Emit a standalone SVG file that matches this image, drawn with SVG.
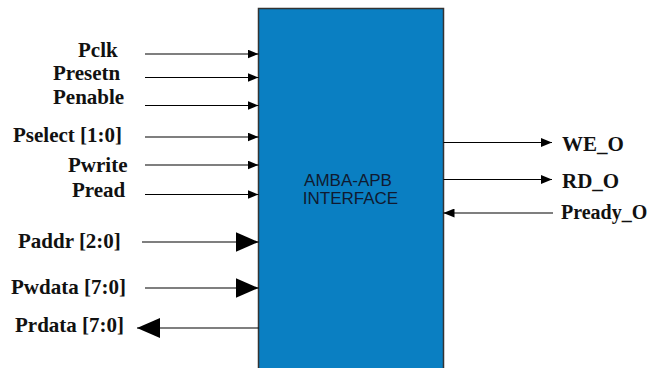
<svg xmlns="http://www.w3.org/2000/svg" width="651" height="368" viewBox="0 0 651 368">
<style>
.lbl{font-family:"Liberation Serif","Times New Roman",serif;font-weight:bold;font-size:21px;fill:#111}
.in{font-family:"Liberation Sans",Arial,sans-serif;font-size:17px;fill:#101a30;text-anchor:middle}
.w{stroke:#000;stroke-width:1.2;fill:none}
</style>
<defs>
<marker id="s" markerWidth="11" markerHeight="9" refX="11" refY="4.5" orient="auto" markerUnits="userSpaceOnUse"><path d="M0,0 L11,4.5 L0,9 z" fill="#000"/></marker>
<marker id="b" markerWidth="23" markerHeight="20" refX="23" refY="10" orient="auto" markerUnits="userSpaceOnUse"><path d="M0,0 L23,10 L0,20 z" fill="#000"/></marker>
</defs>
<rect width="651" height="368" fill="#fff"/>
<g id="amba-apb">
<rect x="258.5" y="8.5" width="185" height="362" fill="#0a7fc2" stroke="#333" stroke-width="1.5"/>
<text class="in" x="348" y="185.5">AMBA-APB</text>
<text class="in" x="350.5" y="203.5">INTERFACE</text>
</g>
<g id="connectors">
<line class="w" x1="145" y1="54" x2="258.5" y2="54" marker-end="url(#s)"/>
<line class="w" x1="145" y1="77.5" x2="258.5" y2="77.5" marker-end="url(#s)"/>
<line class="w" x1="145" y1="105.5" x2="258.5" y2="105.5" marker-end="url(#s)"/>
<line class="w" x1="145" y1="137" x2="258.5" y2="137" marker-end="url(#s)"/>
<line class="w" x1="145" y1="165" x2="258.5" y2="165" marker-end="url(#s)"/>
<line class="w" x1="145" y1="194.5" x2="258.5" y2="194.5" marker-end="url(#s)"/>
<line class="w" x1="142" y1="242" x2="258.5" y2="242" marker-end="url(#b)"/>
<line class="w" x1="145" y1="288" x2="258.5" y2="288" marker-end="url(#b)"/>
<line class="w" x1="258.5" y1="328" x2="137" y2="328" marker-end="url(#b)"/>
<line class="w" x1="443.5" y1="142.5" x2="552" y2="142.5" marker-end="url(#s)"/>
<line class="w" x1="443.5" y1="179.5" x2="552" y2="179.5" marker-end="url(#s)"/>
<line class="w" x1="553" y1="213" x2="443.5" y2="213" marker-end="url(#s)"/>
</g>
<g id="pclk"><text class="lbl" x="78" y="56.5">Pclk</text></g>
<g id="presetn"><text class="lbl" x="53" y="80">Presetn</text></g>
<g id="penable"><text class="lbl" x="53" y="103.5">Penable</text></g>
<g id="pselect"><text class="lbl" x="13" y="142">Pselect [1:0]</text></g>
<g id="pwrite"><text class="lbl" x="68" y="172">Pwrite</text></g>
<g id="pread"><text class="lbl" x="72" y="197">Pread</text></g>
<g id="paddr"><text class="lbl" x="18" y="248">Paddr [2:0]</text></g>
<g id="pwdata"><text class="lbl" x="11" y="293.5">Pwdata [7:0]</text></g>
<g id="prdata"><text class="lbl" x="15" y="331.5">Prdata [7:0]</text></g>
<g id="we_o"><text class="lbl" x="562" y="150.5">WE_O</text></g>
<g id="rd_o"><text class="lbl" x="562" y="187.5">RD_O</text></g>
<g id="pready_o"><text class="lbl" x="561" y="218.5" style="font-size:20px">Pready_O</text></g>
</svg>
